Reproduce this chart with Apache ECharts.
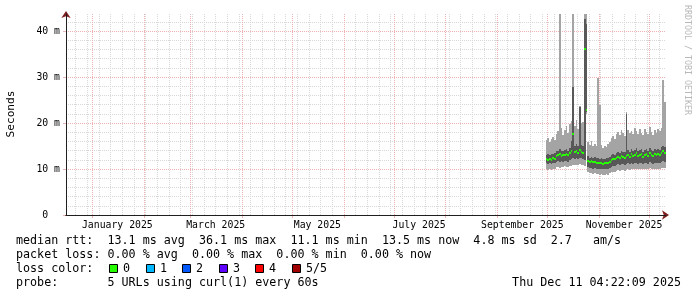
<!DOCTYPE html>
<html><head><meta charset="utf-8">
<script src="https://cdn.jsdelivr.net/npm/echarts@6/dist/echarts.min.js"></script>
<style>html,body{margin:0;padding:0;background:#fff}#c{width:697px;height:297px}</style>
</head><body><div id="c"></div>
<script>
const DAY = 86400000;
const endTime = Date.UTC(2025, 11, 11, 4, 22, 9);
const spanDays = 360;
const firstDataDay = '2025-09-30';

// smoke values (ms), one per day: p1 (min) .. p5 (max) of the 5 probes
const p1 = [10.0,9.8,9.9,9.7,10.0,9.9,10.4,10.5,10.3,10.5,10.4,10.6,10.5,10.4,10.6,10.7,10.8,10.9,10.8,10.9,11.0,10.8,10.9,10.6,22.0,
  9.3,9.1,9.2,9.0,9.1,8.9,9.0,8.8,8.9,8.7,8.8,8.9,8.8,9.1,9.3,9.4,9.3,9.5,9.7,9.6,9.8,9.7,9.6,9.8,9.9,9.8,
  10.0,9.9,10.0,10.1,9.9,10.0,10.1,9.9,10.0,10.1,9.9,10.2,10.0,9.9,10.1,10.0,10.1,10.0,10.2,10.3,10.2];
const p2 = [11.2,11.1,11.3,11.0,11.2,11.2,11.6,11.7,11.6,11.7,11.5,11.8,11.7,11.6,11.9,12.1,12.4,12.2,12.3,12.2,12.5,12.3,12.2,12.0,22.4,
  10.4,10.2,10.3,10.1,10.2,10.0,10.1,10.0,10.1,9.9,10.0,10.1,10.0,10.3,10.5,10.7,10.6,10.8,11.0,10.9,11.1,11.0,10.9,11.1,11.2,11.0,
  11.3,11.1,11.2,11.4,11.1,11.2,11.4,11.0,11.3,11.4,11.1,11.5,11.3,11.1,11.4,11.3,11.4,11.2,11.6,11.8,11.6];
const median = [12.1,12.0,12.2,12.0,12.3,12.1,12.8,13.0,13.2,12.9,13.0,13.1,13.3,13.0,13.4,14.0,17.6,13.6,13.9,13.5,14.1,13.7,13.5,36.1,22.8,
  11.8,11.6,11.7,11.5,11.6,11.4,11.3,11.2,11.4,11.1,11.2,11.3,11.2,11.6,12.0,12.2,12.1,12.4,12.6,12.5,12.9,12.7,12.4,12.8,13.0,12.6,
  13.2,12.8,13.1,13.4,12.9,13.0,13.3,12.7,13.1,13.2,12.9,13.4,13.0,12.8,13.2,13.1,13.3,13.0,13.5,14.0,13.5];
const p4 = [13.0,13.2,13.1,13.3,13.2,13.4,13.9,14.0,14.3,14.0,13.9,14.2,14.3,14.0,14.5,16.0,27.8,15.1,15.4,14.9,23.5,15.2,15.0,42.6,41.5,
  12.8,12.5,12.6,12.4,12.6,12.3,12.4,12.2,12.3,12.1,12.2,12.4,12.3,12.7,13.0,13.2,13.1,13.4,13.7,13.5,14.0,13.8,13.6,22.0,14.1,13.8,
  14.3,13.9,14.2,14.5,14.0,14.1,14.4,13.8,14.2,14.3,14.0,14.5,14.1,13.9,14.3,14.2,14.4,14.2,14.7,15.1,14.8];
const p5 = [16.2,16.8,15.9,16.5,17.0,16.4,17.6,18.2,43.7,18.9,17.5,18.4,19.3,17.9,19.8,20.5,43.7,19.4,20.6,18.8,23.8,19.9,20.2,43.7,43.7,
  15.8,15.2,16.0,14.9,15.5,15.0,29.7,23.9,15.3,14.6,15.1,14.8,15.4,15.9,16.7,17.2,16.5,17.6,18.0,17.3,18.4,17.8,17.1,22.3,18.5,17.9,
  18.3,17.6,19.0,18.2,17.7,18.6,17.9,17.4,18.8,18.1,17.6,19.2,18.0,17.5,18.5,17.8,18.7,18.2,18.9,29.3,24.6];

const monthStarts = ['2025-01-01','2025-02-01','2025-03-01','2025-04-01','2025-05-01','2025-06-01',
  '2025-07-01','2025-08-01','2025-09-01','2025-10-01','2025-11-01','2025-12-01'];
const monthLabelDates = ['2025-01-16','2025-03-16','2025-05-16','2025-07-16','2025-09-16','2025-11-16'];
const monthLabels = ['January 2025','March 2025','May 2025','July 2025','September 2025','November 2025'];
const firstWeekLine = '2024-12-22';
const yMinorTicks = [0,2,4,6,8,10,12,14,16,18,20,22,24,26,28,30,32,34,36,38,40,42];
const yMajorTicks = [0,10,20,30,40];
const yTickLabels = ['0\u00a0\u00a0','10 m','20 m','30 m','40 m'];

const legendRows = [
  'median rtt:  13.1 ms avg  36.1 ms max  11.1 ms min  13.5 ms now  4.8 ms sd  2.7   am/s',
  'packet loss: 0.00 % avg  0.00 % max  0.00 % min  0.00 % now',
  'loss color:',
  'probe:       5 URLs using curl(1) every 60s'
];
const lossColors = ['#26ff00','#00b8ff','#0059ff','#5e00ff','#ff0000','#a00000'];
const lossLabels = ['0','1','2','3','4','5/5'];
const stampText = 'Thu Dec 11 04:22:09 2025';
const watermark = 'RRDTOOL / TOBI OETIKER';

const startTime = endTime - spanDays * DAY;
const day0 = Date.parse(firstDataDay);
const data = median.map((m, i) => [day0 + i * DAY, p1[i], p2[i], m, p4[i], p5[i]]);
const weekTicks = [];
for (let t = Date.parse(firstWeekLine); t < endTime; t += 7 * DAY) weekTicks.push(t);
const monthTickVals = monthStarts.map(Date.parse);
const labelVals = monthLabelDates.map(Date.parse);

const MONO = '"DejaVu Sans Mono"';
const LIGHT = '#a4a4a4', DARK = '#585858';
const minorGrid = {color: '#d8d8d8', width: 1, type: [1, 1]};
const majorGrid = {color: '#efb3b3', width: 1, type: [1, 1]};

function renderItem(params, api) {
  const t0 = api.value(0), t1 = t0 + DAY;
  const a = api.coord([t0, api.value(1)]), b = api.coord([t1, api.value(5)]);
  const x0 = Math.round(a[0]), x1 = Math.round(b[0]), w = Math.max(1, x1 - x0);
  const y2 = api.coord([t0, api.value(2)])[1], y4 = api.coord([t0, api.value(4)])[1];
  const ym = api.coord([t0, api.value(3)])[1];
  return {type: 'group', children: [
    {type: 'rect', shape: {x: x0, y: Math.round(b[1]), width: w, height: Math.round(a[1]) - Math.round(b[1])}, style: {fill: LIGHT}},
    {type: 'rect', shape: {x: x0, y: Math.round(y4), width: w, height: Math.round(y2) - Math.round(y4)}, style: {fill: DARK}},
    {type: 'rect', shape: {x: x0, y: Math.round(ym) - 1, width: w, height: 2}, style: {fill: lossColors[0]}}
  ]};
}

const chart = echarts.init(document.getElementById('c'), null, {renderer: 'canvas'});
const graphics = [];
legendRows.forEach((t, i) => graphics.push({type: 'text', x: 16, y: 241 + i * 14,
  style: {text: t, font: '11.7px ' + MONO, fill: '#000', align: 'left', verticalAlign: 'middle'}}));
lossColors.forEach((c, k) => {
  const bx = 109 + k * 36.6;
  graphics.push({type: 'rect', shape: {x: Math.round(bx) + 0.5, y: 264.5, width: 8, height: 8}, style: {fill: c, stroke: '#000', lineWidth: 1}});
  graphics.push({type: 'text', x: Math.round(bx) + 14, y: 269, style: {text: lossLabels[k], font: '11.7px ' + MONO, fill: '#000', verticalAlign: 'middle'}});
});
graphics.push({type: 'text', x: 681, y: 283, style: {text: stampText, font: '11.7px ' + MONO, fill: '#000', align: 'right', verticalAlign: 'middle'}});
graphics.push({type: 'text', x: 11, y: 114, rotation: Math.PI / 2, style: {text: 'Seconds', font: '11.2px ' + MONO, fill: '#000', align: 'center', verticalAlign: 'middle'}});
graphics.push({type: 'text', x: 687, y: 5, rotation: -Math.PI / 2, style: {text: watermark, font: '8.3px ' + MONO, fill: '#b8b8b8', align: 'left', verticalAlign: 'middle'}});

const xBase = {type: 'value', min: startTime, max: endTime, gridIndex: 0, position: 'bottom', axisLabel: {show: false}, axisLine: {show: false}, axisTick: {show: false}, splitLine: {show: false}};
const yBase = {type: 'value', min: 0, max: 43.7, gridIndex: 0, position: 'left', axisLabel: {show: false}, axisLine: {show: false}, axisTick: {show: false}, splitLine: {show: false}};

chart.setOption({
  animation: false,
  backgroundColor: '#ffffff',
  grid: {left: 66, right: 31, top: 14, bottom: 82, containLabel: false},
  xAxis: [
    Object.assign({}, xBase, {axisTick: {show: false, customValues: weekTicks}, splitLine: {show: true, lineStyle: minorGrid}}),
    Object.assign({}, xBase, {axisTick: {show: true, customValues: monthTickVals, length: 3, lineStyle: {color: '#efb3b3'}}, splitLine: {show: true, lineStyle: majorGrid}}),
    Object.assign({}, xBase, {z: 3, axisLine: {show: true, onZero: false, symbol: ['none', 'arrow'], symbolSize: [7, 7], symbolOffset: [0, 3], lineStyle: {color: '#801f1f', width: 1}}}),
    Object.assign({}, xBase, {z: 4, axisLine: {show: true, onZero: false, lineStyle: {color: '#1f1f1f', width: 1}},
      axisLabel: {show: true, customValues: labelVals, margin: 5, fontFamily: 'DejaVu Sans Mono', fontSize: 9.8, color: '#000',
        formatter: v => { const k = labelVals.indexOf(v); return k >= 0 ? monthLabels[k] : ''; }}})
  ],
  yAxis: [
    Object.assign({}, yBase, {axisTick: {show: false, customValues: yMinorTicks}, splitLine: {show: true, lineStyle: minorGrid}}),
    Object.assign({}, yBase, {axisTick: {show: true, customValues: yMajorTicks, length: 3, lineStyle: {color: '#efb3b3'}}, splitLine: {show: true, lineStyle: majorGrid}}),
    Object.assign({}, yBase, {z: 3, axisLine: {show: true, onZero: false, symbol: ['none', 'arrow'], symbolSize: [7, 7], symbolOffset: [0, 3], lineStyle: {color: '#801f1f', width: 1}}}),
    Object.assign({}, yBase, {z: 4, axisLine: {show: true, onZero: false, lineStyle: {color: '#1f1f1f', width: 1}},
      axisLabel: {show: true, customValues: yMajorTicks, margin: 6, fontFamily: 'DejaVu Sans Mono', fontSize: 9.8, color: '#000',
        formatter: v => { const k = yMajorTicks.indexOf(v); return k >= 0 ? yTickLabels[k] : ''; }}})
  ],
  series: [{
    type: 'custom', xAxisIndex: 0, yAxisIndex: 0, renderItem: renderItem, clip: true,
    encode: {x: 0, y: [1, 5]}, data: data, z: 2
  }],
  graphic: graphics
});
</script></body></html>
